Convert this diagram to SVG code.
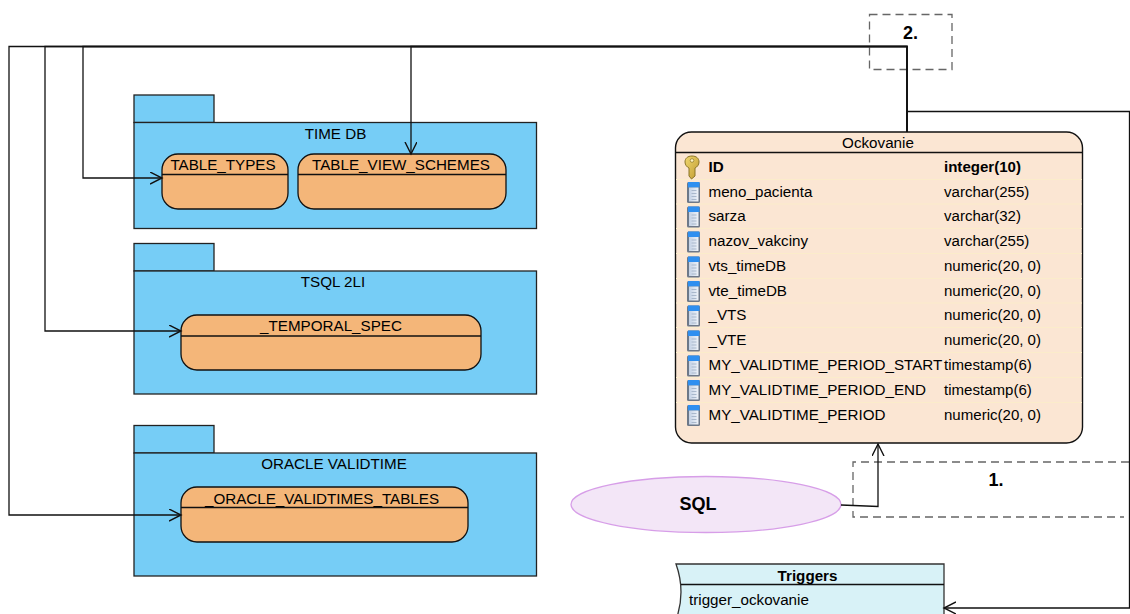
<svg xmlns="http://www.w3.org/2000/svg" width="1130" height="614" viewBox="0 0 1130 614">
<style>
text{font-family:"Liberation Sans",Arial,sans-serif;font-size:15.2px;fill:#000}
.t{font-size:15.05px}
.b{font-weight:bold}
.big{font-size:18px}
.pkg{fill:#76cdf6;stroke:#222;stroke-width:1.3}
.st{fill:#f4b679;stroke:#111;stroke-width:1.3}
.div{stroke:#111;stroke-width:1.3;fill:none}
.m{text-anchor:middle}
.con{fill:none;stroke:#111;stroke-width:1.3}
.dash{fill:none;stroke:#666;stroke-width:1.3;stroke-dasharray:8 5}
.sep{stroke:#fbeccb;stroke-width:1}
</style>
<defs>
<marker id="arr" markerWidth="14" markerHeight="14" refX="12" refY="6" orient="auto" markerUnits="userSpaceOnUse"><path d="M0 0L12 6L0 12" fill="none" stroke="#111" stroke-width="1.4"/></marker>
<linearGradient id="col" x1="0" y1="0" x2="1" y2="0"><stop offset="0" stop-color="#c4d2e6"/><stop offset="1" stop-color="#eef2f8"/></linearGradient>
<linearGradient id="gold" x1="0" y1="0" x2="1" y2="1"><stop offset="0" stop-color="#f0d870"/><stop offset="1" stop-color="#c09a30"/></linearGradient>
<g id="colicon">
<rect x="-6.500" y="-10.500" width="13" height="21" rx="1.500" fill="#6d7888"/>
<rect x="-5.500" y="-10.500" width="11.500" height="5.500" fill="#2f8ff0"/>
<rect x="-4.500" y="-5" width="9.500" height="14" fill="url(#col)"/>
<path d="M-2-2H3M-2 1H3M-2 4H3M-2 7H3" stroke="#a9b8cc" stroke-width="1"/>
</g>
</defs>

<g id="note1"><path class="dash" d="M1129 462H853V517H1124"/><text class="b m big" x="996" y="486">1.</text></g>
<g id="note2"><rect class="dash" x="869.500" y="14.500" width="82.500" height="55"/><text class="b m big" x="910.500" y="38.500">2.</text></g>

<g id="pkg-timedb">
<rect class="pkg" x="134" y="95" width="80" height="27.500"/>
<rect class="pkg" x="134" y="122.500" width="402.500" height="106"/>
<text class="m" x="335.500" y="139">TIME DB</text>
</g>
<g id="table-types">
<rect class="st" x="162" y="154" width="126" height="55" rx="16"/>
<path class="div" d="M162 174.500H288"/>
<text class="m" x="223" y="170">TABLE_TYPES</text>
</g>
<g id="table-view-schemes">
<rect class="st" x="298" y="154" width="208" height="55" rx="16"/>
<path class="div" d="M298 174.500H506"/>
<text class="m" x="401" y="170">TABLE_VIEW_SCHEMES</text>
</g>

<g id="pkg-tsql">
<rect class="pkg" x="134" y="243.500" width="80" height="27.500"/>
<rect class="pkg" x="134" y="271" width="402.500" height="123"/>
<text class="m" x="333" y="287">TSQL 2LI</text>
</g>
<g id="temporal-spec">
<rect class="st" x="181" y="315" width="300" height="55" rx="16"/>
<path class="div" d="M181 336H481"/>
<text class="m" x="331" y="331">_TEMPORAL_SPEC</text>
</g>

<g id="pkg-oracle">
<rect class="pkg" x="134" y="425.500" width="80" height="27.500"/>
<rect class="pkg" x="134" y="453" width="402.500" height="123"/>
<text class="m" x="334" y="469">ORACLE VALIDTIME</text>
</g>
<g id="oracle-tables">
<rect class="st" x="181" y="487" width="287" height="55" rx="16"/>
<path class="div" d="M181 507.500H468"/>
<text class="m" x="322" y="504">_ORACLE_VALIDTIMES_TABLES</text>
</g>

<g id="ockovanie">
<rect x="675.500" y="132" width="407" height="311" rx="16" fill="#fbe6d3" stroke="#111" stroke-width="1.4"/>
<path class="div" d="M676 152.500H1082"/>
<text class="m" x="878" y="148">Ockovanie</text>
<path class="sep" d="M676 179.500H1082M676 204H1082M676 228.500H1082M676 253.500H1082M676 278.500H1082M676 303H1082M676 327.500H1082M676 352.500H1082M676 377.500H1082M676 402.500H1082"/>
<path d="M692 156c-4.500 0-7 2.500-7 6 0 3 2 5 4 6v8l2.500 3 3.500-3v-8c2-1 4-3 4-6 0-3.500-2.500-6-7-6z" fill="url(#gold)" stroke="#8a7428" stroke-width="1"/>
<circle cx="692" cy="160.500" r="1.800" fill="#fff3c0" stroke="#8a7428" stroke-width=".7"/>
<use href="#colicon" x="693.500" y="192.500"/><use href="#colicon" x="693.500" y="217"/><use href="#colicon" x="693.500" y="242"/><use href="#colicon" x="693.500" y="267"/><use href="#colicon" x="693.500" y="291.500"/><use href="#colicon" x="693.500" y="316"/><use href="#colicon" x="693.500" y="341"/><use href="#colicon" x="693.500" y="366"/><use href="#colicon" x="693.500" y="390.500"/><use href="#colicon" x="693.500" y="415.500"/>
<text class="b" x="708.500" y="172">ID</text><text class="b t" x="944" y="172">integer(10)</text>
<text x="708.500" y="197">meno_pacienta</text><text class="t" x="944" y="197">varchar(255)</text>
<text x="708.500" y="221">sarza</text><text class="t" x="944" y="221">varchar(32)</text>
<text x="708.500" y="246">nazov_vakciny</text><text class="t" x="944" y="246">varchar(255)</text>
<text x="708.500" y="271">vts_timeDB</text><text class="t" x="944" y="271">numeric(20, 0)</text>
<text x="708.500" y="296">vte_timeDB</text><text class="t" x="944" y="296">numeric(20, 0)</text>
<text x="708.500" y="320">_VTS</text><text class="t" x="944" y="320">numeric(20, 0)</text>
<text x="708.500" y="345">_VTE</text><text class="t" x="944" y="345">numeric(20, 0)</text>
<text x="708.500" y="370">MY_VALIDTIME_PERIOD_START</text><text class="t" x="944" y="370">timestamp(6)</text>
<text x="708.500" y="395">MY_VALIDTIME_PERIOD_END</text><text class="t" x="944" y="395">timestamp(6)</text>
<text x="708.500" y="420">MY_VALIDTIME_PERIOD</text><text class="t" x="944" y="420">numeric(20, 0)</text>
</g>

<g id="sql">
<ellipse cx="706" cy="504.500" rx="135" ry="28" fill="#f3e6f7" stroke="#d79ee8" stroke-width="1.3"/>
<text class="b m big" x="698" y="510">SQL</text>
</g>

<g id="triggers">
<path d="M676 564H944V620H676Q686 592 676 564Z" fill="#d8f2f7" stroke="#333" stroke-width="1.3"/>
<path class="div" d="M681 584.500H944"/>
<text class="b m" x="807.500" y="581">Triggers</text>
<text x="689" y="605">trigger_ockovanie</text>
</g>

<g id="connectors">
<path class="con" d="M907 132V46.500H9V515H181" marker-end="url(#arr)"/>
<path class="con" d="M907 132V46.500H45V331H181" marker-end="url(#arr)"/>
<path class="con" d="M907 132V46.500H83V178H162" marker-end="url(#arr)"/>
<path class="con" d="M907 132V46.500H411V154" marker-end="url(#arr)"/>
<path class="con" d="M907 132V111.500H1129.500V608H944" marker-end="url(#arr)"/>
<path class="con" d="M841 505L878 506.500V444" marker-end="url(#arr)"/>
</g>
</svg>
